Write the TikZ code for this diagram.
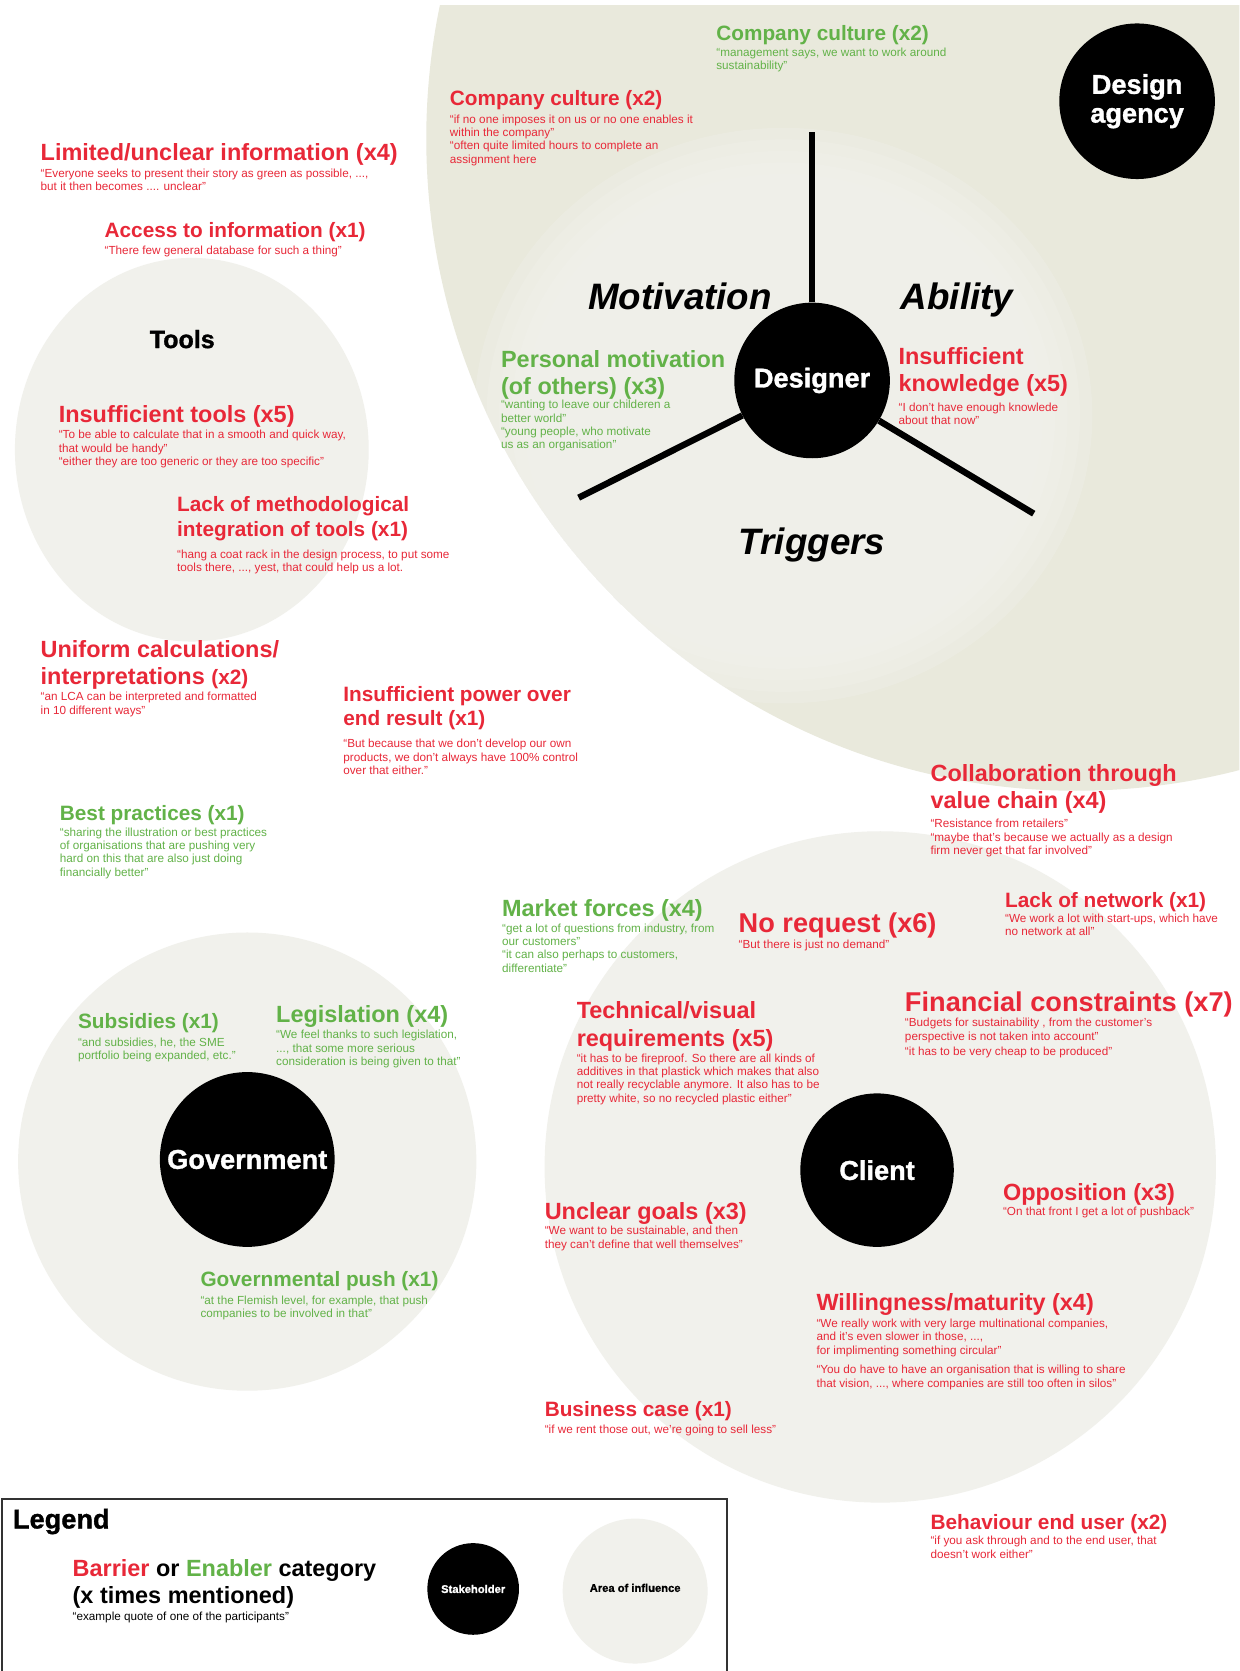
\documentclass[tikz,border=0pt]{standalone}
\usepackage{fontspec}
\setmainfont{Liberation Sans}
\newfontfamily\heavyfont[FakeBold=1.2]{Liberation Sans Bold}
\definecolor{barrier}{RGB}{232,40,56}
\definecolor{enabler}{RGB}{98,178,72}
\definecolor{agency}{RGB}{233,233,220}
\definecolor{influence}{RGB}{241,241,236}
\begin{document}
\begin{tikzpicture}[x=1pt,y=-1pt,
  hdS/.style={font=\fontsize{19.5}{23}\selectfont\bfseries, anchor=north west, inner sep=0pt, align=left, yshift=7.2pt},
  hdM/.style={font=\fontsize{22}{25.5}\selectfont\bfseries, anchor=north west, inner sep=0pt, align=left, yshift=8.1pt},
  hdL/.style={font=\fontsize{25.5}{29}\selectfont\bfseries, anchor=north west, inner sep=0pt, align=left, yshift=9.4pt},
  qtext/.style={font=\fontsize{11}{12.5}\selectfont, anchor=north west, inner sep=0pt, align=left, yshift=4.5pt},
  bar/.style={text=barrier},
  enb/.style={text=enabler},
  stakeholder/.style={circle, fill=black, text=white, inner sep=0pt, font=\fontsize{25.5}{27}\heavyfont, align=center},
  zone/.style={fill=influence},
  spoke/.style={line width=6pt, black},
  dimlabel/.style={font=\fontsize{34.5}{36}\selectfont\bfseries\itshape, anchor=base, inner sep=0pt},
]
\useasboundingbox (0,0) rectangle (1163,1568);
\fill[white] (0,0) rectangle (1163,1568);

% area of influence of the design agency, with the softer designer zone inside
\begin{scope}
  \clip (0,5) rectangle (1163,1568);
  \fill[agency] (1010,130) ellipse [x radius=610pt, y radius=612pt];
  \clip (1010,130) ellipse [x radius=610pt, y radius=612pt];
  \foreach \s in {1.0,0.96,0.92,0.88,0.84}
    \fill[influence, opacity=0.35] (735,390) ellipse [x radius=\s*290pt, y radius=\s*270pt];
\end{scope}

% other areas of influence
\fill[zone] (180,422) ellipse [x radius=166pt, y radius=180pt];
\fill[zone] (232,1090) circle [radius=215pt];
\fill[zone] (826,1095) circle [radius=315pt];

% designer with its three spokes
\node[stakeholder, minimum size=146pt] (designer) at (762,357) {Designer};
\coordinate (mtop) at (762,124);
\coordinate (tleft) at (543,467);
\coordinate (aright) at (970,482);
\draw[spoke] (designer) -- (mtop);
\draw[spoke] (designer) -- (tleft);
\draw[spoke] (designer) -- (aright);

\node[dimlabel] (motivation) at (638,290) {Motivation};
\node[dimlabel] (ability) at (898,290) {Ability};
\node[dimlabel] (triggers) at (762,520) {Triggers};

% stakeholders
\node[stakeholder, minimum size=146pt] (agencynode) at (1067,95) {Design\\agency};
\node[stakeholder, minimum size=164pt] (government) at (232,1088) {Government};
\node[stakeholder, minimum size=144pt] (client) at (823,1098) {Client};

\node[font=\fontsize{23.5}{26}\heavyfont, anchor=base, inner sep=0pt] (tools) at (171,326.6) {Tools};

% design agency and designer categories
\node[hdS, enb] (h1) at (672,31) {Company culture (x2)};
\node[qtext, enb] (q1) at (672,49) {“management says, we want to work around\\sustainability”};

\node[hdS, bar] (h2) at (422,92) {Company culture (x2)};
\node[qtext, bar] (q2) at (422,112) {“if no one imposes it on us or no one enables it\\within the company”\\“often quite limited hours to complete an\\assignment here};

\node[hdM, enb] (h11) at (470,337) {Personal motivation\\(of others) (x3)};
\node[qtext, enb] (q11) at (470,380) {“wanting to leave our childeren a\\better world”\\“young people, who motivate\\us as an organisation”};

\node[hdM, bar] (h12) at (843,334) {Insufficient\\knowledge (x5)};
\node[qtext, bar] (q12) at (843,382) {“I don’t have enough knowlede\\about that now”};

% tools
\node[hdM, bar] (h3) at (38,143) {Limited/unclear information (x4)};
\node[qtext, bar] (q3) at (38,163) {“Everyone seeks to present their story as green as possible, ...,\\but it then becomes .... unclear”};

\node[hdS, bar] (h4) at (98,216) {Access to information (x1)};
\node[qtext, bar] (q4) at (98,235) {“There few general database for such a thing”};

\node[hdM, bar] (h6) at (55,388) {Insufficient tools (x5)};
\node[qtext, bar] (q6) at (55,408) {“To be able to calculate that in a smooth and quick way,\\that would be handy”\\“either they are too generic or they are too specific”};

\node[hdS, bar] (h7) at (166,473) {Lack of methodological\\integration of tools (x1)};
\node[qtext, bar] (q7) at (166,520) {“hang a coat rack in the design process, to put some\\tools there, ..., yest, that could help us a lot.};

\node[hdM, bar] (h8) at (38,609) {Uniform calculations/\\interpretations {\fontsize{19.5}{23}\selectfont(x2)}};
\node[qtext, bar] (q8) at (38,654) {“an LCA can be interpreted and formatted\\in 10 different ways”};

\node[hdS, bar] (h9) at (322,651) {Insufficient power over\\end result (x1)};
\node[qtext, bar] (q9) at (322,698) {“But because that we don’t develop our own\\products, we don’t always have 100\% control\\over that either.”};

\node[hdS, enb] (h10) at (56,763) {Best practices (x1)};
\node[qtext, enb] (q10) at (56,781) {“sharing the illustration or best practices\\of organisations that are pushing very\\hard on this that are also just doing\\financially better”};

% client
\node[hdM, bar] (h13) at (873,725) {Collaboration through\\value chain (x4)};
\node[qtext, bar] (q13) at (873,773) {“Resistance from retailers”\\“maybe that’s because we actually as a design\\firm never get that far involved”};

\node[hdM, enb] (h14) at (471,852) {Market forces (x4)};
\node[qtext, enb] (q14) at (471,871) {“get a lot of questions from industry, from\\our customers”\\“it can also perhaps to customers,\\differentiate”};

\node[hdL, bar] (h15) at (693,866) {No request (x6)};
\node[qtext, bar] (q15) at (693,886) {“But there is just no demand”};

\node[hdS, bar] (h16) at (943,844) {Lack of network (x1)};
\node[qtext, bar] (q16) at (943,862) {“We work a lot with start-ups, which have\\no network at all”};

\node[hdL, bar] (h17) at (849,940) {Financial constraints (x7)};
\node[qtext, bar] (q17) at (849,960) {“Budgets for sustainability , from the customer’s\\perspective is not taken into account”\\[2pt]“it has to be very cheap to be produced”};

\node[hdM, bar] (h18) at (541,948) {Technical/visual\\requirements (x5)};
\node[qtext, bar] (q18) at (541,993) {“it has to be fireproof. So there are all kinds of\\additives in that plastick which makes that also\\not really recyclable anymore. It also has to be\\pretty white, so no recycled plastic either”};

\node[hdM, bar] (h19) at (511,1136) {Unclear goals (x3)};
\node[qtext, bar] (q19) at (511,1155) {“We want to be sustainable, and then\\they can’t define that well themselves”};

\node[hdM, bar] (h20) at (941,1118) {Opposition (x3)};
\node[qtext, bar] (q20) at (941,1137) {“On that front I get a lot of pushback”};

\node[hdM, bar] (h21) at (766,1222) {Willingness/maturity (x4)};
\node[qtext, bar] (q21) at (766,1242) {“We really work with very large multinational companies,\\and it’s even slower in those, ...,\\for implimenting something circular”\\[6pt]“You do have to have an organisation that is willing to share\\that vision, ..., where companies are still too often in silos”};

\node[hdS, bar] (h22) at (511,1322) {Business case (x1)};
\node[qtext, bar] (q22) at (511,1341) {“if we rent those out, we’re going to sell less”};

\node[hdS, bar] (h23) at (873,1428) {Behaviour end user (x2)};
\node[qtext, bar] (q23) at (873,1446) {“if you ask through and to the end user, that\\doesn’t work either”};

% government
\node[hdS, enb] (h24) at (73,958) {Subsidies (x1)};
\node[qtext, enb] (q24) at (73,978) {“and subsidies, he, the SME\\portfolio being expanded, etc.”};

\node[hdM, enb] (h25) at (259,951) {Legislation (x4)};
\node[qtext, enb] (q25) at (259,971) {“We feel thanks to such legislation,\\..., that some more serious\\consideration is being given to that”};

\node[hdS, enb] (h26) at (188,1200) {Governmental push (x1)};
\node[qtext, enb] (q26) at (188,1220) {“at the Flemish level, for example, that push\\companies to be involved in that”};

% legend
\fill[white] (2,1407) rectangle (682,1580);
\fill[zone] (596,1493) circle [radius=68pt];
\draw[line width=1.8pt, black!80] (2,1407) rectangle (682,1580);
\node[font=\fontsize{25.5}{27}\heavyfont, anchor=north west, inner sep=0pt, yshift=9.4pt] (legend) at (12,1425) {Legend};
\node[hdM, text=black] (lgcat) at (68,1471) {\textcolor{barrier}{Barrier} or \textcolor{enabler}{Enabler} category\\(x times mentioned)};
\node[qtext, text=black] (lgquote) at (68,1517) {“example quote of one of the participants”};
\node[stakeholder, minimum size=86pt, font=\fontsize{10.5}{11}\heavyfont] (lgstake) at (444,1491) {Stakeholder};
\node[font=\fontsize{10.5}{11}\heavyfont, inner sep=0pt] (lgarea) at (596,1490) {Area of influence};
\end{tikzpicture}
\end{document}
